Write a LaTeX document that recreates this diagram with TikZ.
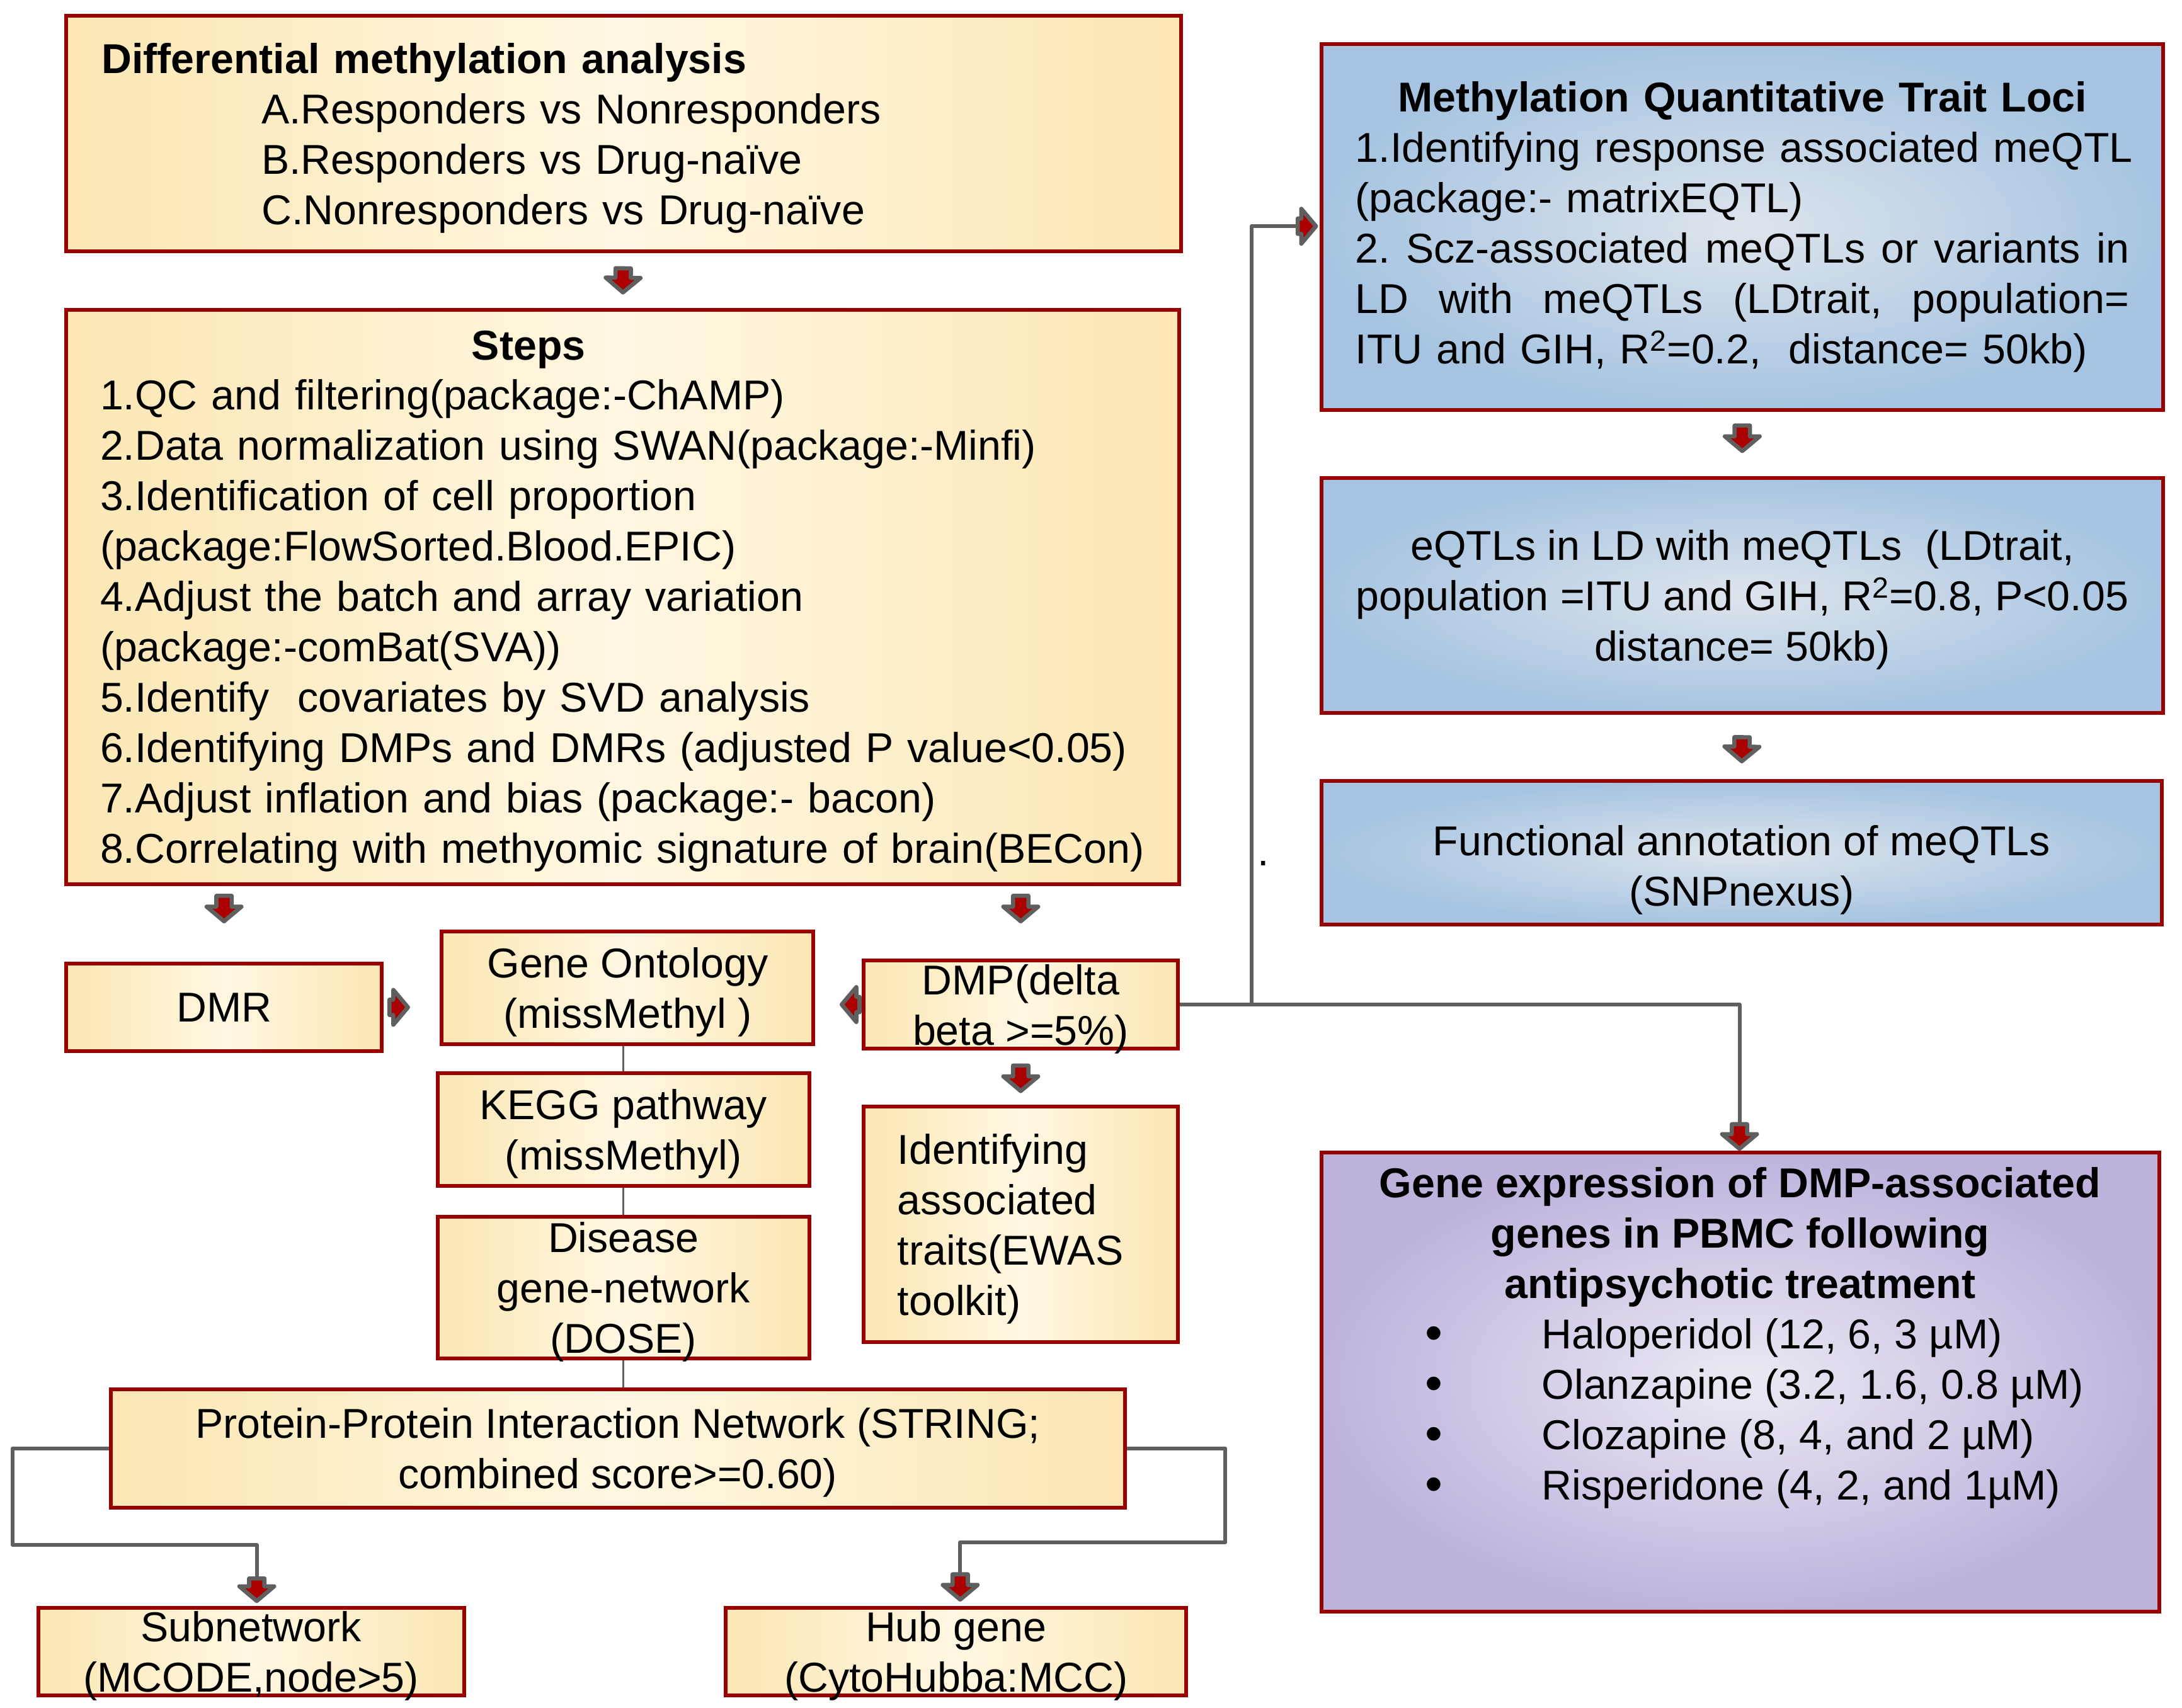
\documentclass[tikz,border=0pt]{standalone}
\usepackage{fontspec}
\usepackage{graphicx}
\setmainfont{Liberation Sans}
\usetikzlibrary{calc,backgrounds}

\definecolor{boxred}{RGB}{153,0,0}
\definecolor{arrred}{RGB}{170,0,0}
\definecolor{lgray}{RGB}{95,95,95}
\definecolor{creamE}{RGB}{252,231,180}
\definecolor{creamM}{RGB}{255,247,226}
\definecolor{blueE}{RGB}{166,196,225}
\definecolor{blueM}{RGB}{222,228,236}
\definecolor{purpE}{RGB}{190,178,220}
\definecolor{purpM}{RGB}{236,233,243}

\newcommand{\fsz}{\fontsize{30}{36.2}\selectfont}
\newcommand{\nd}[1]{\raisebox{0pt}[\height][0pt]{#1}}
\newcommand{\justline}[1]{\mbox{\hbox to 556pt{#1}}}
\newcommand{\bigbullet}{\raisebox{-1pt}[0pt][0pt]{\fontsize{36}{36.2}\selectfont\textbullet}}
\newcommand{\geitem}[1]{\makebox[453pt][l]{\makebox[84pt][l]{\bigbullet}#1}}

% block arrow: #1 from, #2 to, #3 shorten at start, #4 shorten at end
\newcommand{\blk}[4]{%
  \path ($(#1)!#3!(#2)$) coordinate (blkA);
  \path ($(#2)!#4!(#1)$) coordinate (blkB);
  \path ($(blkB)!10.5pt!(blkA)$) coordinate (blkN);
  \draw[blkarrow] ($(blkA)!5.5pt!90:(blkB)$) -- ($(blkN)!5.5pt!90:(blkB)$)
    -- ($(blkN)!12.5pt!90:(blkB)$) -- (blkB)
    -- ($(blkN)!12.5pt!-90:(blkB)$) -- ($(blkN)!5.5pt!-90:(blkB)$)
    -- ($(blkA)!5.5pt!-90:(blkB)$) -- cycle;
}

\tikzset{
  boxbase/.style={draw=boxred, line width=2.7pt, inner ysep=0pt, inner xsep=4pt,
    align=center, font=\fsz},
  cbox/.style={boxbase, left color=creamE, right color=creamE, middle color=creamM},
  bbox/.style={boxbase, inner color=blueM, outer color=blueE},
  pbox/.style={boxbase, inner color=purpM, outer color=purpE},
  conn/.style={draw=lgray, line width=2.7pt, line join=round},
  thinconn/.style={draw=lgray, line width=1.6pt},
  blkarrow/.style={draw=lgray, fill=arrred, line width=3pt, line join=round},
}

\begin{document}
\begin{tikzpicture}[x=1pt, y=-1pt]
\useasboundingbox (0,0) rectangle (1568,1227.6);

% ---------- left column ----------
\node[cbox, minimum width=801pt, minimum height=169pt, align=left, text width=750pt, inner xsep=25.5pt] (b1) at (448,96)
 {\mbox{\bfseries Differential methylation analysis}\\
  \hspace*{115pt}A.Responders vs Nonresponders\\
  \hspace*{115pt}B.Responders vs Drug-naïve\\
  \hspace*{115pt}\nd{C.Nonresponders vs Drug-naïve}};

\node[cbox, minimum width=800pt, minimum height=413pt, align=left, text width=751pt, inner xsep=24.5pt] (b2) at (447.5,429)
 {\hspace*{267pt}\textbf{Steps}\\
  \mbox{1.QC and filtering(package:-ChAMP)}\\
  \mbox{2.Data normalization using SWAN(package:-Minfi)}\\
  \mbox{3.Identification of cell proportion}\\
  \mbox{(package:FlowSorted.Blood.EPIC)}\\
  \mbox{4.Adjust the batch and array variation}\\
  \mbox{(package:-comBat(SVA))}\\
  \mbox{5.Identify\ \ covariates by SVD analysis}\\
  \mbox{6.Identifying DMPs and DMRs (adjusted P value<0.05)}\\
  \mbox{7.Adjust inflation and bias (package:- bacon)}\\
  \nd{\mbox{8.Correlating with methyomic signature of brain(BECon)}}};

\node[cbox, minimum width=227pt, minimum height=63pt] (dmr) at (161,724) {DMR};
\node[cbox, minimum width=267pt, minimum height=81pt] (go) at (451,710) {Gene Ontology\\\nd{(missMethyl )}};
\node[cbox, minimum width=226pt, minimum height=63pt] (dmp) at (733.5,722) {DMP(delta\\\nd{beta >=5\%)}};
\node[cbox, minimum width=226pt, minimum height=169pt, align=left, text width=177pt, inner xsep=24.5pt] (ident) at (733.5,880)
 {\mbox{Identifying}\\\mbox{associated}\\\mbox{traits(EWAS}\\\nd{\mbox{toolkit)}}};
\node[cbox, minimum width=267pt, minimum height=81pt] (kegg) at (448,812) {KEGG pathway\\\nd{(missMethyl)}};
\node[cbox, minimum width=267pt, minimum height=102pt] (dis) at (448,925.5) {Disease\\gene-network\\\nd{(DOSE)}};
\node[cbox, minimum width=729pt, minimum height=85pt] (ppi) at (444,1041) {Protein-Protein Interaction Network (STRING;\\\nd{combined score>=0.60)}};
\node[cbox, minimum width=306pt, minimum height=63pt] (sub) at (180.5,1187) {Subnetwork\\\nd{(MCODE,node>5)}};
\node[cbox, minimum width=331pt, minimum height=63pt] (hub) at (687,1187) {Hub gene\\\nd{(CytoHubba:MCC)}};

% ---------- right column ----------
\node[bbox, minimum width=605pt, minimum height=263pt, align=left, text width=556pt, inner xsep=24.5pt] (mq) at (1252,163)
 {\makebox[556pt][c]{\bfseries Methylation Quantitative Trait Loci}\\
  \mbox{1.Identifying response associated meQTL}\\
  \mbox{(package:- matrixEQTL)}\\
  \justline{2.\hfill Scz-associated\hfill meQTLs\hfill or\hfill variants\hfill in}\\
  \justline{LD\hfill with\hfill meQTLs\hfill (LDtrait,\hfill population=}\\
  \mbox{ITU and GIH, R\textsuperscript{2}=0.2,\ \ distance= 50kb)}};

\node[bbox, minimum width=605pt, minimum height=169pt] (eq) at (1252,428)
 {eQTLs in LD with meQTLs\ \ (LDtrait,\\
  population =ITU and GIH, R\textsuperscript{2}=0.8, P<0.05\\
  \nd{distance= 50kb)}};

\node[bbox, minimum width=604pt, minimum height=103pt] (fa) at (1251.5,613)
 {\rule{0pt}{40pt}Functional annotation of meQTLs\\\nd{(SNPnexus)}};

\node[pbox, minimum width=602pt, minimum height=330pt] (ge) at (1250.5,993.5)
 {\textbf{Gene expression of DMP-associated}\\
  \textbf{genes in PBMC following}\\
  \textbf{antipsychotic treatment}\\
  \geitem{Haloperidol (12, 6, 3 µM)}\\
  \geitem{Olanzapine (3.2, 1.6, 0.8 µM)}\\
  \geitem{Clozapine (8, 4, and 2 µM)}\\
  \geitem{Risperidone (4, 2, and 1µM)\rule[-70pt]{0pt}{70pt}}};

\node[anchor=base, font=\fsz, inner sep=0pt] (dot) at (908,622) {.};

% ---------- background: white page and thin trunk line ----------
\begin{pgfonlayer}{background}
  \fill[white] (0,0) rectangle (1568,1227.6);
  \draw[thinconn] (kegg.north |- go.south) -- (kegg.south |- ppi.north);
\end{pgfonlayer}

% ---------- connectors ----------
\coordinate (jn) at ($(dmp.east)+(51.35,0)$);
\coordinate (mqA) at (932.5,162.6);
\coordinate (geA) at (1250,808);
\draw[conn] (dmp.east) -- (jn) |- (mqA);
\draw[conn] (jn) -| (geA);

\coordinate (subA) at (184.5,1134.5);
\coordinate (hubA) at (690,1131.5);
\draw[conn] (ppi.west) -- (9,1041) -- (9,1110.5) -| (subA);
\draw[conn] (ppi.east) -- (880.5,1041) -- (880.5,1108.6) -| (hubA);

% ---------- block arrows ----------
\blk{b1.south}{b2.north}{11pt}{11pt}
\blk{b2.south -| dmr.north}{dmr.north}{7pt}{29pt}
\blk{b2.south -| dmp.north}{dmp.north}{7pt}{27pt}
\blk{dmr.east}{go.west |- dmr.east}{4pt}{23pt}
\blk{dmp.west}{go.east |- dmp.west}{1.5pt}{19pt}
\blk{dmp.south}{ident.north}{11pt}{10pt}
\blk{mq.south}{eq.north}{10pt}{18pt}
\blk{eq.south}{fa.north}{16pt}{13pt}
\blk{mqA}{mq.west |- mqA}{0pt}{2.5pt}
\blk{geA}{ge.north -| geA}{0pt}{1.5pt}
\blk{subA}{sub.north -| subA}{0pt}{3.5pt}
\blk{hubA}{hub.north -| hubA}{0pt}{4.5pt}

\end{tikzpicture}
\end{document}
